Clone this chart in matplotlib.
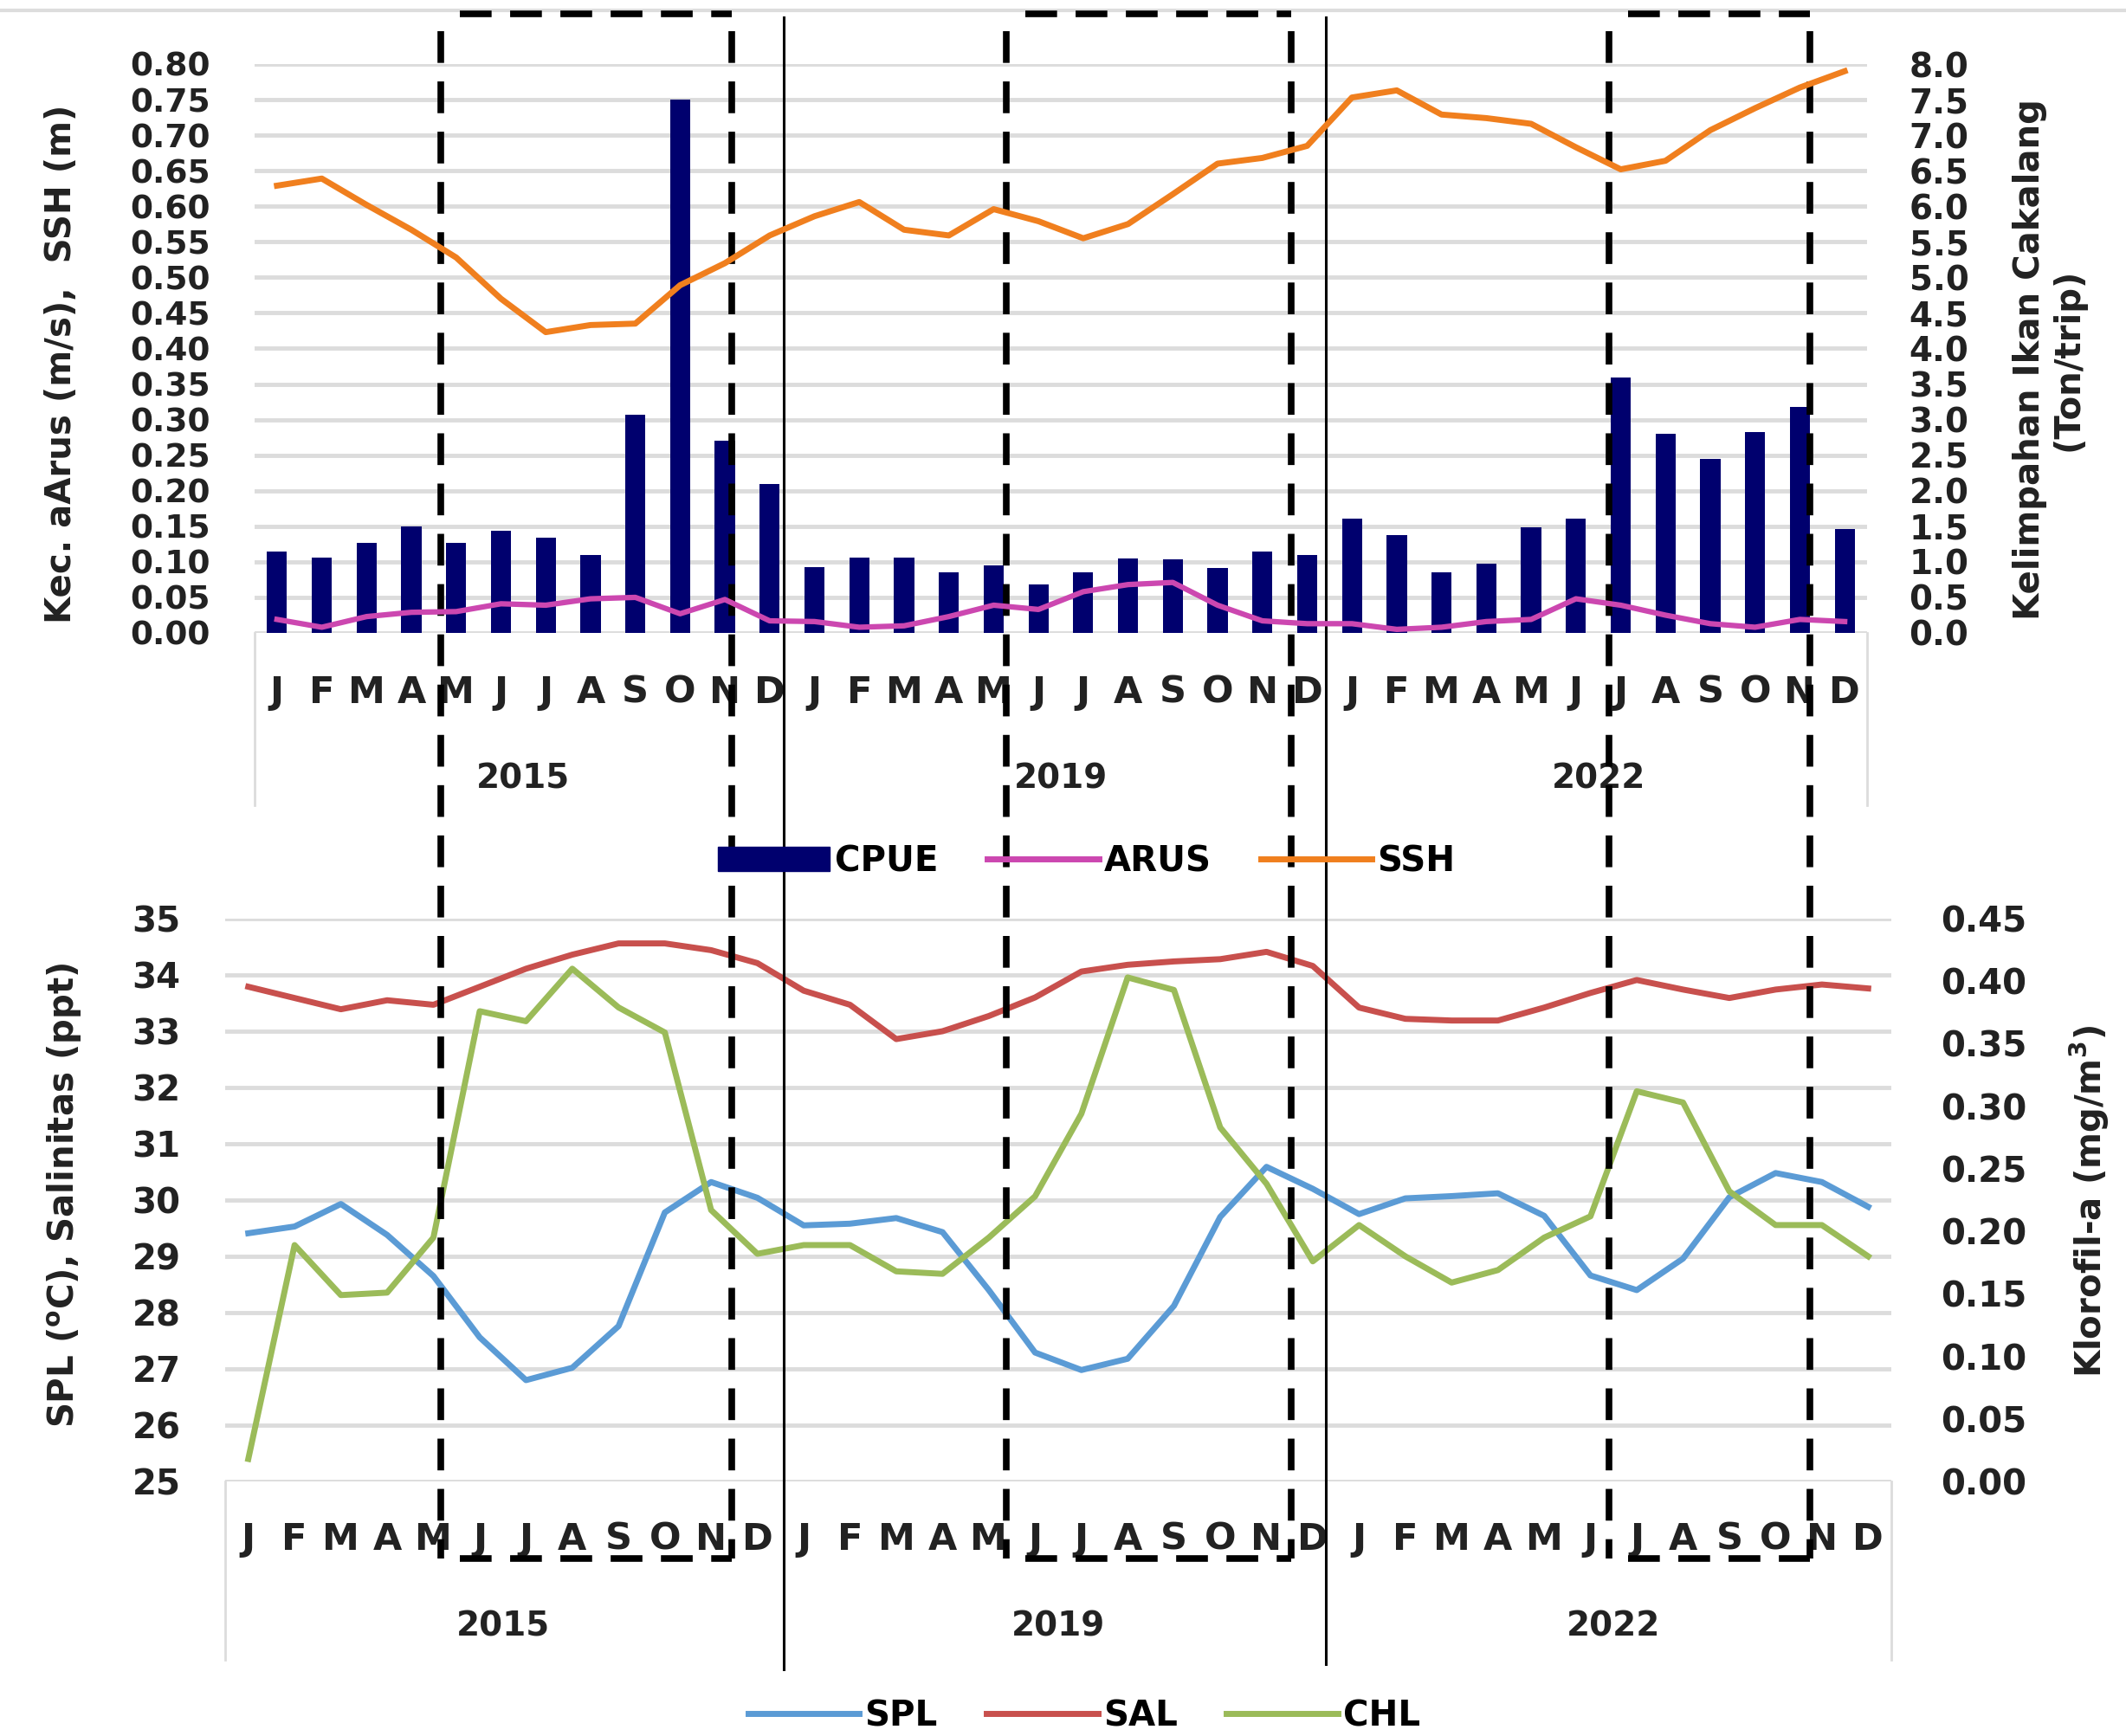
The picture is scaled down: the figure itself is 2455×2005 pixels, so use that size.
import matplotlib
matplotlib.use("Agg")
import matplotlib.pyplot as plt
import numpy as np
from matplotlib.lines import Line2D
from matplotlib.patches import Patch

plt.rcParams["font.family"] = ["DejaVu Sans"]
plt.rcParams["font.weight"] = "bold"
plt.rcParams["mathtext.fontset"] = "custom"
plt.rcParams["mathtext.rm"] = "DejaVu Sans:bold"
plt.rcParams["mathtext.it"] = "DejaVu Sans:bold"
plt.rcParams["mathtext.bf"] = "DejaVu Sans:bold"

# ---- data ----
months = ["J", "F", "M", "A", "M", "J", "J", "A", "S", "O", "N", "D"]
years = ["2015", "2019", "2022"]

# CPUE (Ton/trip), right axis of the top panel
cpue = [1.15, 1.06, 1.27, 1.50, 1.27, 1.44, 1.34, 1.10, 3.07, 7.50, 2.70, 2.10,
        0.93, 1.06, 1.06, 0.85, 0.95, 0.68, 0.85, 1.05, 1.03, 0.91, 1.14, 1.10,
        1.61, 1.37, 0.85, 0.97, 1.49, 1.61, 3.59, 2.80, 2.45, 2.82, 3.18, 1.46]
# current speed (m/s)
arus = [0.019, 0.008, 0.023, 0.029, 0.030, 0.041, 0.039, 0.048, 0.050, 0.027, 0.047, 0.017,
        0.016, 0.008, 0.010, 0.023, 0.039, 0.033, 0.058, 0.068, 0.071, 0.039, 0.017, 0.013,
        0.013, 0.005, 0.008, 0.016, 0.019, 0.048, 0.039, 0.025, 0.013, 0.008, 0.019, 0.016]
# sea surface height (m)
ssh = [0.629, 0.639, 0.602, 0.567, 0.528, 0.470, 0.423, 0.433, 0.435, 0.489, 0.520, 0.559,
       0.586, 0.606, 0.567, 0.559, 0.596, 0.579, 0.555, 0.575, 0.617, 0.660, 0.668, 0.685,
       0.753, 0.763, 0.729, 0.724, 0.716, 0.683, 0.652, 0.664, 0.707, 0.738, 0.767, 0.790]
# sea surface temperature (C)
spl = [29.41, 29.53, 29.93, 29.38, 28.65, 27.56, 26.80, 27.02, 27.76, 29.78, 30.32, 30.04,
       29.55, 29.58, 29.68, 29.43, 28.40, 27.29, 26.98, 27.18, 28.12, 29.70, 30.59, 30.20,
       29.75, 30.03, 30.07, 30.12, 29.72, 28.66, 28.40, 28.96, 30.05, 30.48, 30.32, 29.88]
# salinity (ppt)
sal = [33.79, 33.59, 33.39, 33.55, 33.47, 33.79, 34.11, 34.36, 34.56, 34.56, 34.44, 34.21,
       33.72, 33.47, 32.86, 33.00, 33.27, 33.60, 34.06, 34.18, 34.24, 34.28, 34.41, 34.16,
       33.42, 33.22, 33.19, 33.19, 33.42, 33.68, 33.91, 33.74, 33.59, 33.74, 33.83, 33.76]
# chlorophyll-a (mg/m3), right axis of the bottom panel
chl = [0.018, 0.189, 0.149, 0.151, 0.195, 0.376, 0.368, 0.410, 0.379, 0.359, 0.217, 0.182,
       0.189, 0.189, 0.168, 0.166, 0.195, 0.228, 0.294, 0.403, 0.393, 0.283, 0.238, 0.176,
       0.205, 0.180, 0.159, 0.169, 0.195, 0.212, 0.312, 0.303, 0.232, 0.205, 0.205, 0.180]

C_CPUE, C_ARUS, C_SSH = "#00006e", "#cc47b0", "#f07f1e"
C_SPL, C_SAL, C_CHL = "#5b9bd5", "#c8504d", "#9bbb59"
GRID = "#dcdcdc"
TXT = "#222222"

W, H = 2455, 2005


def box(l, t, r, b):
    return [l / W, 1 - b / H, (r - l) / W, (b - t) / H]


def fx(px):
    return px / W


def fy(py):
    return 1 - py / H


x = np.arange(len(cpue))
cat_labels = months * len(years)

fig = plt.figure(figsize=(W / 100, H / 100), dpi=100)
fig.patch.set_facecolor("white")


def category_axis(ax, month_y, year_y, box_y):
    ax.set_xlim(-0.5, len(x) - 0.5)
    ax.set_xticks([])
    tr = ax.get_xaxis_transform()
    for i, m in enumerate(cat_labels):
        ax.text(i, month_y, m, transform=tr, ha="center", va="center",
                fontsize=31, color=TXT)
    for k, yr in enumerate(years):
        ax.text(12 * k + 5.5, year_y, yr, transform=tr, ha="center", va="center",
                fontsize=28, color=TXT)
    for xa in (0, 1):
        ax.plot([xa, xa], [0, box_y], transform=ax.transAxes, color=GRID,
                lw=2, clip_on=False)


def clean(ax):
    for s in ax.spines.values():
        s.set_visible(False)


# ---- top panel ----
ax1r = fig.add_axes(box(294, 74, 2156, 731))
ax1 = ax1r.twinx()
ax1.yaxis.tick_left()
ax1r.yaxis.tick_right()
ax1r.set_zorder(1)
ax1.set_zorder(2)
ax1.patch.set_visible(False)

ax1r.bar(x, cpue, width=0.45, color=C_CPUE, zorder=3)
ax1r.set_ylim(0, 8)
ax1r.set_yticks(np.arange(0, 8.01, 0.5))
ax1r.yaxis.set_major_formatter(matplotlib.ticker.FormatStrFormatter("%.1f"))
ax1r.grid(axis="y", color=GRID, lw=3.5, zorder=0)
ax1r.set_axisbelow(True)
ax1r.tick_params(axis="y", length=0, pad=35, labelsize=28, labelcolor=TXT)

ax1.plot(x, arus, color=C_ARUS, lw=4.5, solid_joinstyle="round")
ax1.plot(x, ssh, color=C_SSH, lw=5, solid_joinstyle="round")
ax1.set_ylim(0, 0.8)
ax1.set_yticks(np.arange(0, 0.801, 0.05))
ax1.yaxis.set_major_formatter(matplotlib.ticker.FormatStrFormatter("%.2f"))
ax1.tick_params(axis="y", length=0, pad=37, labelsize=27, labelcolor=TXT)
ax1.set_xlim(-0.5, len(x) - 0.5)
category_axis(ax1r, -0.105, -0.257, -0.303)
clean(ax1)
clean(ax1r)

# ---- bottom panel ----
ax2 = fig.add_axes(box(260, 1061, 2184, 1711))
ax2r = ax2.twinx()
ax2.plot(x, spl, color=C_SPL, lw=5, solid_joinstyle="round")
ax2.plot(x, sal, color=C_SAL, lw=5, solid_joinstyle="round")
ax2.set_ylim(25, 35)
ax2.set_yticks(np.arange(25, 36, 1))
ax2.grid(axis="y", color=GRID, lw=3.5, zorder=0)
ax2.set_axisbelow(True)
ax2.tick_params(axis="y", length=0, pad=37, labelsize=29, labelcolor=TXT)

ax2r.plot(x, chl, color=C_CHL, lw=5, solid_joinstyle="round")
ax2r.set_ylim(0, 0.45)
ax2r.set_yticks(np.arange(0, 0.451, 0.05))
ax2r.yaxis.set_major_formatter(matplotlib.ticker.FormatStrFormatter("%.2f"))
ax2r.tick_params(axis="y", length=0, pad=41, labelsize=29, labelcolor=TXT)
category_axis(ax2, -0.103, -0.257, -0.317)
ax2r.set_xlim(-0.5, len(x) - 0.5)
clean(ax2)
clean(ax2r)

# ---- axis titles ----
fig.text(fx(71), fy(420), "Kec. aArus (m/s),  SSH (m)", rotation=90,
         ha="center", va="center", fontsize=29, color=TXT)
fig.text(fx(2366), fy(415), "Kelimpahan Ikan Cakalang\n(Ton/trip)", rotation=90,
         ha="center", va="center", fontsize=29, color=TXT,
         multialignment="center", linespacing=1.15)
fig.text(fx(75), fy(1380), r"SPL ($^{\mathrm{o}}$C), Salinitas (ppt)", rotation=90,
         ha="center", va="center", fontsize=29, color=TXT)
fig.text(fx(2413), fy(1388), r"Klorofil-a (mg/m$^{3}$)", rotation=90,
         ha="center", va="center", fontsize=29, color=TXT)

# ---- legends ----
leg_kw = dict(loc="center", ncol=3, frameon=False, fontsize=29, handlelength=3.2,
              handletextpad=0.15, columnspacing=1.4)
fig.legend([Patch(color=C_CPUE), Line2D([], [], color=C_ARUS, lw=5),
            Line2D([], [], color=C_SSH, lw=5)], ["CPUE", "ARUS", "SSH"],
           bbox_to_anchor=(fx(1255), fy(995)), **leg_kw)
fig.legend([Line2D([], [], color=C_SPL, lw=5), Line2D([], [], color=C_SAL, lw=5),
            Line2D([], [], color=C_CHL, lw=5)], ["SPL", "SAL", "CHL"],
           bbox_to_anchor=(fx(1252), fy(1982)), **leg_kw)

# ---- overlay: page line, year separators, dashed season boxes ----
fig.add_artist(Line2D([0, 1], [fy(12), fy(12)], color="#dddddd", lw=3))
for xs, yb in ((905, 1928), (1531, 1922)):
    fig.add_artist(Line2D([fx(xs), fx(xs)], [fy(20), fy(yb)], color="black", lw=2.2))
dash = dict(color="black", lw=5.5, linestyle=(0, (4.8, 2.8)))
for l, r in ((509, 845), (1162, 1491), (1858, 2090)):
    top, bot = 16, 1800
    fig.add_artist(Line2D([fx(l + 22), fx(r)], [fy(top), fy(top)], **dash))
    fig.add_artist(Line2D([fx(l + 22), fx(r)], [fy(bot), fy(bot)], **dash))
    for xs in (l, r):
        fig.add_artist(Line2D([fx(xs), fx(xs)], [fy(top + 20), fy(bot)], **dash))

fig.savefig("out.png", dpi=100, facecolor="white")
